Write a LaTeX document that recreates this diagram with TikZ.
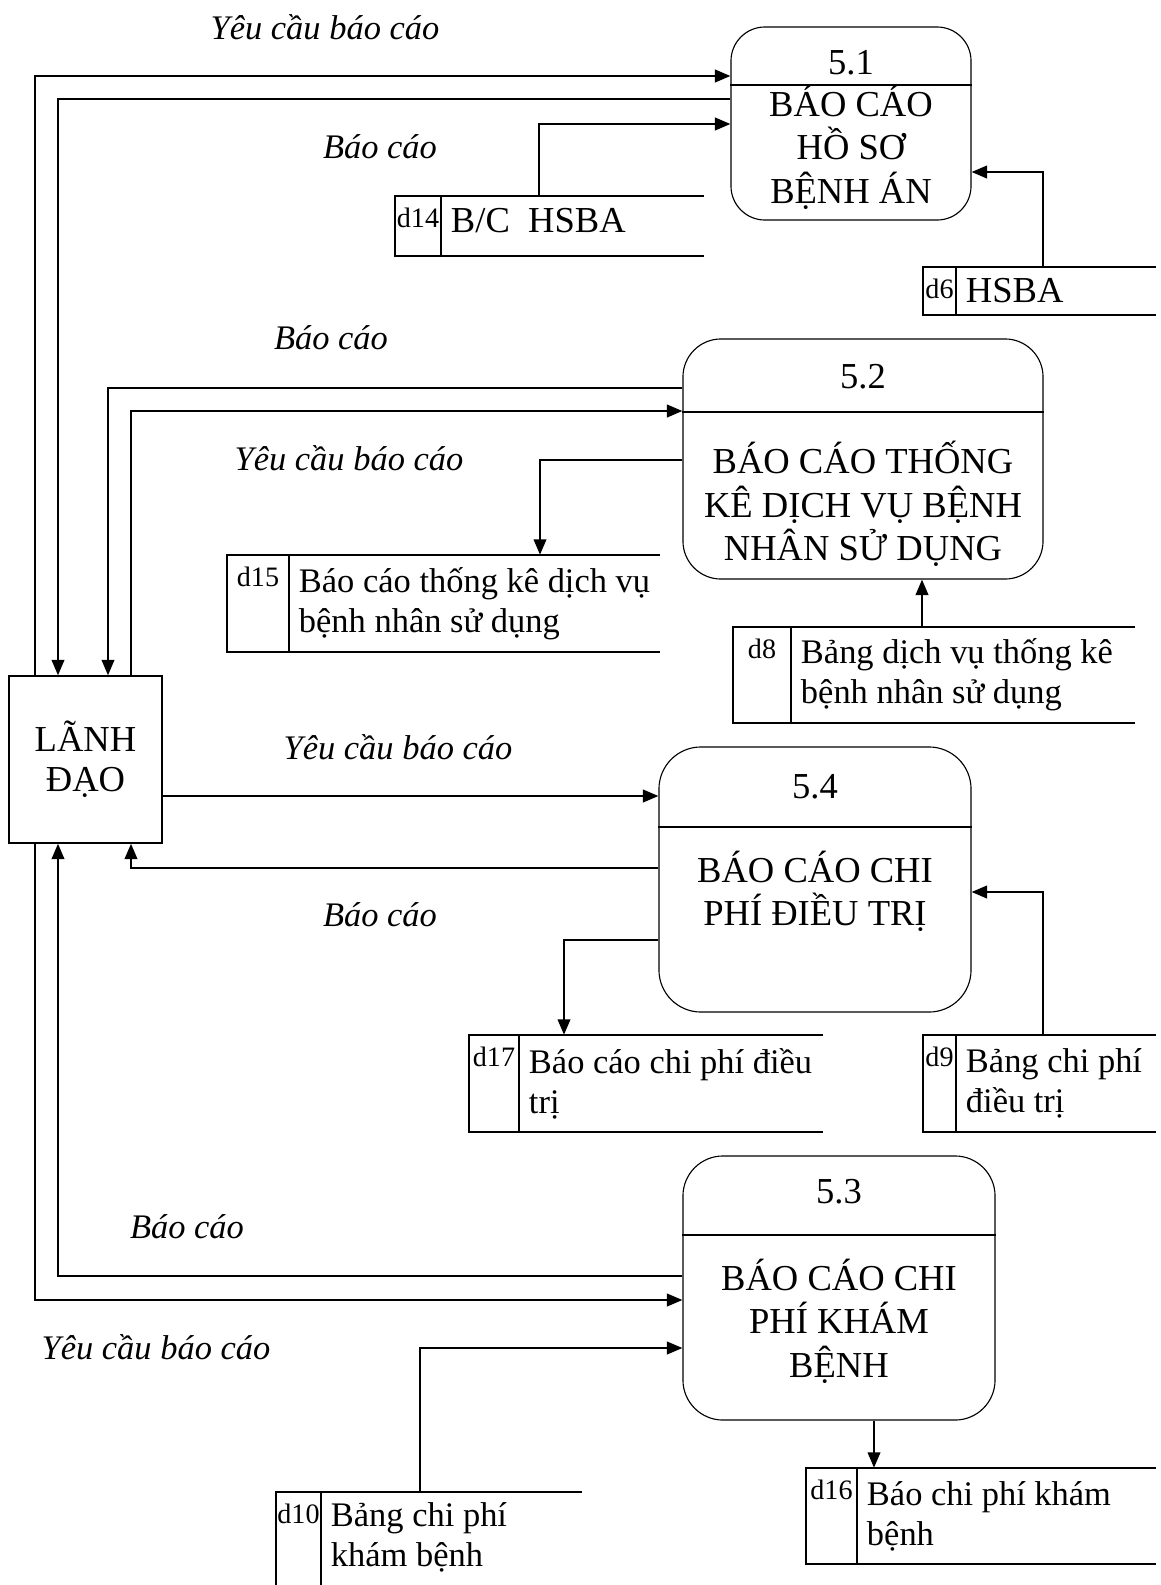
\documentclass[tikz,border=0pt]{standalone}
\usepackage{fontspec}
\setmainfont{Liberation Serif}
\usetikzlibrary{arrows.meta, positioning, fit}

\tikzset{
  process/.style={draw, line width=0.8pt, inner sep=0pt},
  entity/.style={draw, line width=1pt, inner sep=0pt, align=center, font=\fontsize{26}{28.5}\selectfont},
  flow/.style={line width=1.4pt, -{Triangle[length=11pt, width=9pt]}},
  flowlabel/.style={font=\fontsize{24.5}{28}\selectfont\itshape},
  ptext/.style={align=center, font=\fontsize{26}{31}\selectfont},
  stext/.style={align=left, font=\fontsize{24.5}{28.5}\selectfont},
  sid/.style={font=\fontsize{20}{24}\selectfont},
  storeline/.style={line width=0.8pt},
}

% data store: name, left, divider, right, top, bottom, id, text, text options
\newcommand{\datastore}[9]{%
  \node[fit={(#2,#5) (#4,#6)}, inner sep=0pt] (#1) {};
  \draw[storeline] (#4,#5) -- (#2,#5) -- (#2,#6) -- (#4,#6);
  \draw[storeline] (#3,#5) -- (#3,#6);
  \node[sid, anchor=base] (#1-id) at ({(#2+#3)/2},{#5+31}) {#7};
  \node[stext, anchor=west, xshift=0.125cm, #9] (#1-text) at (#3,{(#5+#6)/2}) {#8};
}

\begin{document}
\begin{tikzpicture}[x=0.025cm, y=-0.025cm]
\useasboundingbox (0,0) rectangle (1160,1585);

% external entity
\node[entity, minimum width=3.825cm, minimum height=4.175cm] (lanh) at (85.5,759.5) {LÃNH\\ĐẠO};

% processes
\node[process, rounded corners=0.85cm, minimum width=6cm, minimum height=4.825cm] (p51) at (851,123.5) {};
\draw[storeline] (p51.west|-0,85) -- (p51.east|-0,85);
\node[ptext] (p51-num) at (851,63) {5.1};
\node[ptext] (p51-name) at (851,147) {BÁO CÁO\\HỒ SƠ\\BỆNH ÁN};

\node[process, rounded corners=0.95cm, minimum width=9cm, minimum height=6cm] (p52) at (863,459) {};
\draw[storeline] (p52.west|-0,412) -- (p52.east|-0,412);
\node[ptext] (p52-num) at (863,377) {5.2};
\node[ptext] (p52-name) at (863,504) {BÁO CÁO THỐNG\\KÊ DỊCH VỤ BỆNH\\NHÂN SỬ DỤNG};

\node[process, rounded corners=1.05cm, minimum width=7.8cm, minimum height=6.625cm] (p54) at (815,879.5) {};
\draw[storeline] (p54.west|-0,827) -- (p54.east|-0,827);
\node[ptext] (p54-num) at (815,787) {5.4};
\node[ptext] (p54-name) at (815,891.5) {BÁO CÁO CHI\\PHÍ ĐIỀU TRỊ};

\node[process, rounded corners=1cm, minimum width=7.8cm, minimum height=6.6cm] (p53) at (839,1288) {};
\draw[storeline] (p53.west|-0,1235) -- (p53.east|-0,1235);
\node[ptext] (p53-num) at (839,1192) {5.3};
\node[ptext] (p53-name) at (839,1321) {BÁO CÁO CHI\\PHÍ KHÁM\\BỆNH};

% data stores
\datastore{d14}{395}{441}{704}{196}{256}{d14}{\fontsize{26}{31}\selectfont B/C~~HSBA}{yshift=0.125cm}
\datastore{d6}{923}{956}{1156}{267}{315}{d6}{\fontsize{26}{31}\selectfont HSBA}{}
\datastore{d15}{227}{289}{660}{555}{652}{d15}{Báo cáo thống kê dịch vụ\\bệnh nhân sử dụng}{}
\datastore{d8}{733}{791}{1135}{627}{723}{d8}{Bảng dịch vụ thống kê\\bệnh nhân sử dụng}{}
\datastore{d17}{469}{519}{823}{1035}{1132}{d17}{Báo cáo chi phí điều\\trị}{}
\datastore{d9}{923}{956}{1156}{1035}{1132}{d9}{Bảng chi phí\\điều trị}{}
\datastore{d16}{806}{857}{1156}{1468}{1564}{d16}{Báo chi phí khám\\bệnh}{}

% d10 runs off the bottom of the page
\node[fit={(276,1492) (582,1585)}, inner sep=0pt] (d10) {};
\draw[storeline] (582,1492) -- (276,1492) -- (276,1585);
\draw[storeline] (321,1492) -- (321,1585);
\node[sid, anchor=base] (d10-id) at (298.5,1523) {d10};
\node[stext, anchor=west, xshift=0.125cm] (d10-text) at (321,1537.5) {Bảng chi phí\\khám bệnh};

% flows
\draw[flow] (lanh.north-|35,0) |- (p51.west|-0,76);
\draw[flow] (p51.west|-0,99) -| (lanh.north-|58,0);
\draw[flow] (d14.north-|539,0) |- (p51.west|-0,124);
\draw[flow] (d6.north-|1043,0) |- (p51.east|-0,172);

\draw[flow] (p52.west|-0,388) -| (lanh.north-|108,0);
\draw[flow] (lanh.north-|131,0) |- (p52.west|-0,411);
\draw[flow] (p52.west|-0,460) -| (d15.north-|540,0);
\draw[flow] (d8.north-|922,0) -- (p52.south-|922,0);

\draw[flow] (lanh.east|-0,796) -- (p54.west|-0,796);
\draw[flow] (p54.west|-0,868) -| (lanh.south-|131,0);
\draw[flow] (p54.west|-0,940) -| (d17.north-|564,0);
\draw[flow] (d9.north-|1043,0) |- (p54.east|-0,892);

\draw[flow] (p53.west|-0,1276) -| (lanh.south-|58,0);
\draw[flow] (lanh.south-|35,0) |- (p53.west|-0,1300);
\draw[flow] (d10.north-|420,0) |- (p53.west|-0,1348);
\draw[flow] (p53.south-|874,0) -- (d16.north-|874,0);

% flow labels
\node[flowlabel] (l1) at (325,27) {Yêu cầu báo cáo};
\node[flowlabel] (l2) at (380,147) {Báo cáo};
\node[flowlabel] (l3) at (331,338) {Báo cáo};
\node[flowlabel] (l4) at (349,458) {Yêu cầu báo cáo};
\node[flowlabel] (l5) at (398,747) {Yêu cầu báo cáo};
\node[flowlabel] (l6) at (380,915) {Báo cáo};
\node[flowlabel] (l7) at (187,1227) {Báo cáo};
\node[flowlabel] (l8) at (156,1347) {Yêu cầu báo cáo};
\end{tikzpicture}
\end{document}
